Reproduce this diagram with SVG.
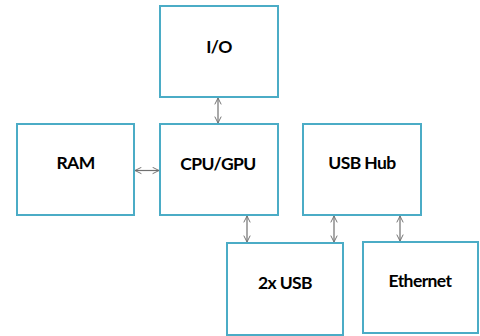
<svg xmlns="http://www.w3.org/2000/svg" width="480" height="336" viewBox="0 0 480 336">
<defs>
<marker id="ah" viewBox="0 0 10 10" refX="9" refY="5" markerWidth="8" markerHeight="8" orient="auto-start-reverse" markerUnits="userSpaceOnUse">
<path d="M1,1 L9,5 L1,9" fill="none" stroke="#707070" stroke-width="1.2"/>
</marker>
<style>
.box{fill:#ffffff;stroke:#4bacc6;stroke-width:2}
.lbl{font-family:Lato,"Open Sans",sans-serif;font-weight:bold;font-size:17.5px;letter-spacing:-0.6px;fill:#000;text-anchor:middle}
.cn{stroke:#707070;stroke-width:1.2;fill:none;marker-start:url(#ah);marker-end:url(#ah)}
</style>
</defs>
<rect width="480" height="336" fill="#fff"/>
<g id="connectors">
<line class="cn" x1="218" y1="98" x2="218" y2="123"/>
<line class="cn" x1="135" y1="170.5" x2="159" y2="170.5"/>
<line class="cn" x1="247" y1="216" x2="247" y2="242"/>
<line class="cn" x1="334" y1="216" x2="334" y2="242"/>
<line class="cn" x1="400" y1="216" x2="400" y2="241"/>
</g>
<g id="io"><rect class="box" x="160" y="6" width="118" height="91"/><text class="lbl" x="219" y="53">I/O</text></g>
<g id="ram"><rect class="box" x="17" y="124" width="117" height="91"/><text class="lbl" x="75.5" y="169">RAM</text></g>
<g id="cpu"><rect class="box" x="160" y="124" width="118" height="91"/><text class="lbl" x="218" y="169.5">CPU/GPU</text></g>
<g id="usbhub"><rect class="box" x="303" y="124" width="118" height="91"/><text class="lbl" x="362" y="169">USB Hub</text></g>
<g id="usb2x"><rect class="box" x="227" y="243" width="116" height="92"/><text class="lbl" x="285" y="289">2x USB</text></g>
<g id="ethernet"><rect class="box" x="363" y="242" width="115" height="91"/><text class="lbl" x="420" y="287">Ethernet</text></g>
</svg>
